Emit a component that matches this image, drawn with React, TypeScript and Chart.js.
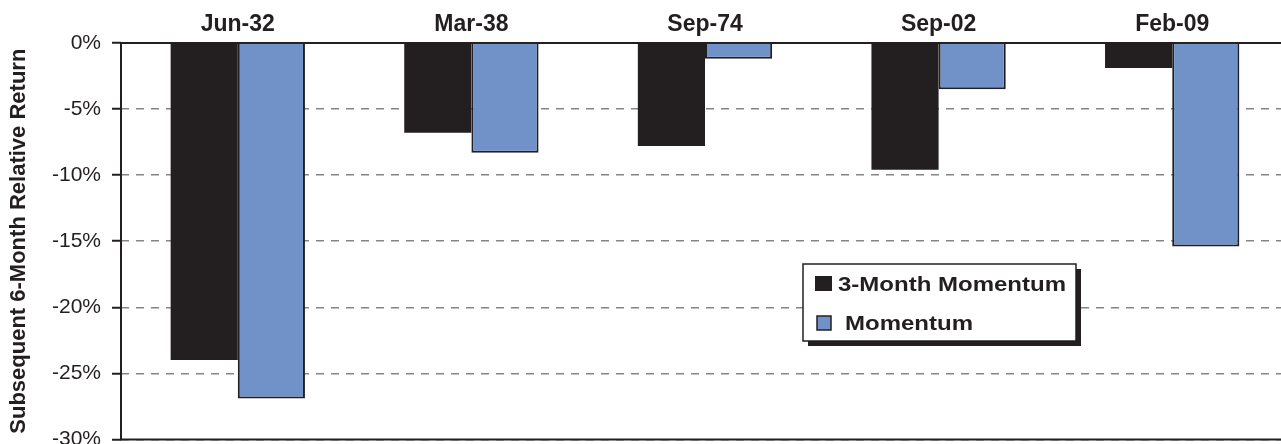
import React, { useEffect, useRef } from "react";
import { Chart, registerables } from "chart.js";

Chart.register(...registerables);

const categories = ["Jun-32", "Mar-38", "Sep-74", "Sep-02", "Feb-09"];
const threeMonthMomentum = [-24.0, -6.8, -7.8, -9.6, -1.9];
const momentum = [-26.9, -8.3, -1.2, -3.5, -15.4];
const seriesNames = ["3-Month Momentum", "Momentum"];
const yTicks = [0, -5, -10, -15, -20, -25, -30];

const DARK = "#231f20";
const BLUE = "#7192c9";
const FONT = "'Liberation Sans', Arial, Helvetica, sans-serif";

const legendPlugin = {
  id: "boxLegend",
  afterDraw(chart: any) {
    const ctx = chart.ctx;
    const x = 803, y = 264, w = 273, h = 77;
    ctx.save();
    ctx.fillStyle = DARK;
    ctx.fillRect(x + 5, y + 5, w, h);
    ctx.fillStyle = "#ffffff";
    ctx.fillRect(x, y, w, h);
    ctx.strokeStyle = DARK;
    ctx.lineWidth = 1.5;
    ctx.strokeRect(x, y, w, h);
    ctx.font = `bold 20px ${FONT}`;
    ctx.textBaseline = "alphabetic";
    ctx.textAlign = "left";
    const scaledText = (t: string, tx: number, ty: number) => {
      ctx.save();
      ctx.translate(tx, ty);
      ctx.scale(1.2, 1);
      ctx.fillText(t, 0, 0);
      ctx.restore();
    };
    ctx.fillStyle = DARK;
    ctx.fillRect(815, 276, 17, 15);
    scaledText(chart.data.datasets[0].label, 838, 291);
    ctx.fillStyle = BLUE;
    ctx.fillRect(817, 316, 14, 14);
    ctx.strokeStyle = DARK;
    ctx.lineWidth = 1.5;
    ctx.strokeRect(817, 316, 14, 14);
    ctx.fillStyle = DARK;
    scaledText(chart.data.datasets[1].label, 845, 330);
    ctx.restore();
  },
};

const axisLinesPlugin = {
  id: "axisLines",
  beforeDatasetsDraw(chart: any) {
    const { ctx, chartArea } = chart;
    const yb = chart.scales.y.getPixelForValue(-30);
    const yt = chart.scales.y.getPixelForValue(0);
    ctx.save();
    ctx.strokeStyle = DARK;
    ctx.lineWidth = 2;
    ctx.setLineDash([]);
    ctx.beginPath();
    ctx.moveTo(chartArea.left, yb);
    ctx.lineTo(chartArea.right + 5, yb);
    ctx.moveTo(chartArea.left, yt);
    ctx.lineTo(chartArea.right + 5, yt);
    ctx.moveTo(chartArea.left, yt - 1);
    ctx.lineTo(chartArea.left, yb + 1);
    ctx.stroke();
    ctx.restore();
  },
};

export default function App() {
  const ref = useRef<HTMLCanvasElement | null>(null);
  useEffect(() => {
    if (!ref.current) return;
    const chart = new Chart(ref.current, {
      type: "bar",
      data: {
        labels: categories,
        datasets: [
          {
            label: seriesNames[0],
            data: threeMonthMomentum,
            backgroundColor: DARK,
            borderColor: DARK,
            borderWidth: 0,
          },
          {
            label: seriesNames[1],
            data: momentum,
            backgroundColor: BLUE,
            borderColor: DARK,
            borderWidth: 2,
          },
        ],
      },
      options: {
        animation: false,
        responsive: false,
        devicePixelRatio: 1,
        layout: { padding: { left: 0, right: 1, top: 0, bottom: 0 } },
        datasets: { bar: { categoryPercentage: 0.575, barPercentage: 1 } },
        plugins: { legend: { display: false }, tooltip: { enabled: false } },
        scales: {
          x: {
            position: "top",
            grid: { display: false },
            border: { display: false },
            ticks: {
              color: DARK,
              font: { family: FONT, size: 23, weight: "bold" },
              padding: -3,
              maxRotation: 0,
            },
            afterFit: (s: any) => {
              s.height = 43;
            },
          },
          y: {
            min: -30,
            max: 0,
            afterBuildTicks: (s: any) => {
              s.ticks = yTicks.map((v) => ({ value: v }));
            },
            grid: {
              color: "#858585",
              lineWidth: 1.5,
              tickBorderDash: [],
              tickColor: DARK,
              tickWidth: 2,
              tickLength: 9,
            },
            border: { display: false, dash: [8, 7] },
            ticks: {
              color: DARK,
              font: { family: FONT, size: 21 },
              padding: 11,
              callback: (v: any) => `${v}%`,
            },
            title: {
              display: true,
              text: "Subsequent 6-Month Relative Return",
              color: DARK,
              font: { family: FONT, size: 22, weight: "bold" },
              padding: { top: 6, bottom: 0 },
            },
            afterFit: (s: any) => {
              s.width = 121;
            },
          },
        },
      },
      plugins: [axisLinesPlugin, legendPlugin],
    } as any);
    return () => chart.destroy();
  }, []);
  return (
    <div style={{ position: "absolute", left: 0, top: 0, width: 1290, height: 463, background: "#fff" }}>
      <canvas ref={ref} width={1290} height={463} style={{ width: 1290, height: 463 }} />
    </div>
  );
}
